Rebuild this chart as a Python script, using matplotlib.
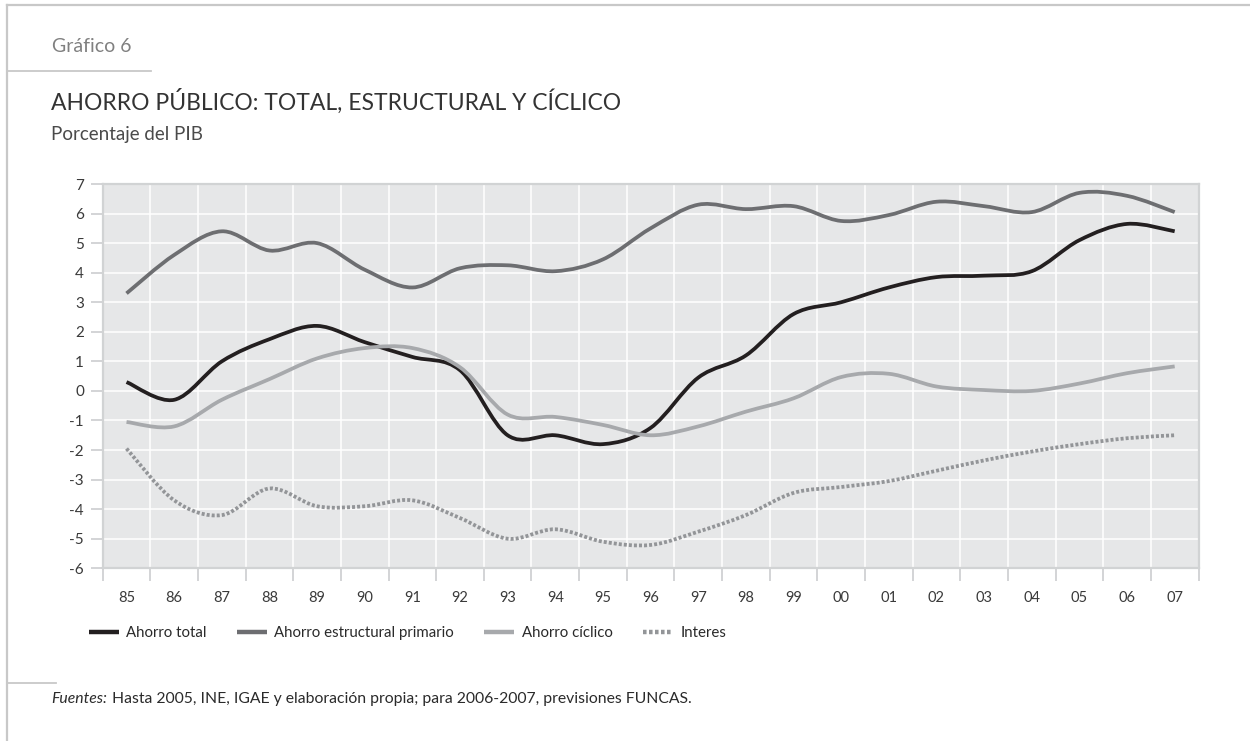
import matplotlib
matplotlib.use("Agg")
import matplotlib.pyplot as plt
from matplotlib.path import Path
from matplotlib.patches import PathPatch
from matplotlib.lines import Line2D
from matplotlib.text import Annotation
import numpy as np

# Datos (porcentaje del PIB)
anios = ['85', '86', '87', '88', '89', '90', '91', '92', '93', '94', '95', '96',
         '97', '98', '99', '00', '01', '02', '03', '04', '05', '06', '07']

ahorro_total = [0.3, -0.3, 1.0, 1.75, 2.2, 1.65, 1.15, 0.7, -1.5, -1.5, -1.8, -1.25,
                0.45, 1.2, 2.6, 3.0, 3.5, 3.85, 3.9, 4.05, 5.1, 5.65, 5.4]
ahorro_estructural = [3.3, 4.6, 5.4, 4.75, 5.0, 4.1, 3.5, 4.15, 4.25, 4.05, 4.45, 5.5,
                      6.3, 6.15, 6.25, 5.75, 5.95, 6.4, 6.25, 6.05, 6.7, 6.6, 6.05]
ahorro_ciclico = [-1.05, -1.2, -0.3, 0.4, 1.1, 1.45, 1.45, 0.8, -0.8, -0.88, -1.15, -1.5,
                  -1.2, -0.7, -0.25, 0.47, 0.58, 0.15, 0.03, 0.0, 0.25, 0.6, 0.83]
interes = [-1.95, -3.7, -4.2, -3.3, -3.9, -3.9, -3.7, -4.3, -5.0, -4.68, -5.1, -5.21,
           -4.76, -4.2, -3.45, -3.25, -3.05, -2.7, -2.35, -2.05, -1.8, -1.6, -1.5]

series = [
    ('Ahorro total', ahorro_total, '#231f20', '-'),
    ('Ahorro estructural primario', ahorro_estructural, '#6d6e71', '-'),
    ('Ahorro cíclico', ahorro_ciclico, '#a7a9ac', '-'),
    ('Interes', interes, '#939598', (0, (0.8, 0.55))),
]

plt.rcParams['font.family'] = ['Lato', 'DejaVu Sans']
plt.rcParams['axes.unicode_minus'] = False

W, H = 1250, 741
fig = plt.figure(figsize=(W / 100, H / 100), dpi=100)


def fx(px):
    return px / W


def fy(py):
    return 1 - py / H


def curva_suave(x, y):
    # línea suavizada tipo Catmull-Rom con segmentos Bezier cúbicos
    pts = np.column_stack([x, y]).astype(float)
    ext = np.vstack([pts[0], pts, pts[-1]])
    verts = [pts[0]]
    codes = [Path.MOVETO]
    for i in range(len(pts) - 1):
        p0, p1, p2, p3 = ext[i], ext[i + 1], ext[i + 2], ext[i + 3]
        c1 = p1 + (p2 - p0) / 6
        c2 = p2 - (p3 - p1) / 6
        verts += [c1, c2, p2]
        codes += [Path.CURVE4] * 3
    return Path(verts, codes)


ax = fig.add_axes([fx(102.7), fy(568.3), fx(1198.5 - 102.7), (568.3 - 184) / H])
ax.set_facecolor('#e6e7e8')

x = np.arange(len(anios))
for nombre, valores, color, estilo in series:
    patch = PathPatch(curva_suave(x, valores), fill=False, edgecolor=color,
                      linewidth=2.7, linestyle=estilo, capstyle='butt',
                      joinstyle='round', zorder=3)
    ax.add_patch(patch)

ax.set_xlim(-0.5, len(anios) - 0.5)
ax.set_ylim(-6, 7)

ax.set_yticks(range(-6, 8))
ax.set_xticks(x)
ax.set_xticklabels(anios)
ax.set_xticks(np.arange(-0.5, len(anios)), minor=True)

ax.grid(True, which='major', axis='y', color='white', linewidth=1.1)
ax.grid(True, which='minor', axis='x', color='white', linewidth=1.1)
ax.set_axisbelow(True)

ax.tick_params(axis='y', which='major', direction='out', length=8.5, width=1.1,
               color='#c8c9cb', labelsize=11, labelcolor='#3a3a3a', pad=5)
ax.tick_params(axis='x', which='major', length=0, labelsize=10.5,
               labelcolor='#3a3a3a', pad=16)
ax.tick_params(axis='x', which='minor', direction='out', length=9, width=1.1,
               color='#c8c9cb')

for lado in ['left', 'right', 'top', 'bottom']:
    ax.spines[lado].set_color('#d1d3d4')
    ax.spines[lado].set_linewidth(1.6)

# leyenda
manejadores = [Line2D([], [], color=c, linewidth=3.2, linestyle=e, solid_capstyle='butt',
                      dash_capstyle='butt') for _, _, c, e in series]
fig.legend(manejadores, [s[0] for s in series], loc='center left',
           bbox_to_anchor=(fx(89), fy(633)), ncol=4, frameon=False,
           fontsize=10.8, handlelength=2.0, handletextpad=0.5, columnspacing=2.0,
           borderpad=0, borderaxespad=0, labelcolor='#2a2a2a')

# textos de cabecera y pie
fig.text(fx(52), fy(52), 'Gráfico 6', fontsize=14, color='#808080', va='baseline')
fig.text(fx(51), fy(110), 'AHORRO PÚBLICO: TOTAL, ESTRUCTURAL Y CÍCLICO',
         fontsize=16.5, color='#333333', va='baseline')
fig.text(fx(51), fy(140), 'Porcentaje del PIB', fontsize=13.5, color='#4a4a4a',
         va='baseline')
fuentes = fig.text(fx(51), fy(703), 'Fuentes:', fontsize=11.3, color='#2a2a2a',
                   style='italic', va='baseline')
fig.add_artist(Annotation(
    'Hasta 2005, INE, IGAE y elaboración propia; para 2006-2007, previsiones FUNCAS.',
    xy=(1, 0), xycoords=fuentes, xytext=(4, 0), textcoords='offset points',
    fontsize=11.3, color='#2a2a2a', va='bottom', ha='left'))

# marco y separadores
gris_marco = '#c8c8c8'
fig.add_artist(Line2D([fx(7), 1], [fy(4.5), fy(4.5)], color=gris_marco, linewidth=1.6))
fig.add_artist(Line2D([fx(7), fx(7)], [fy(4.5), 0], color=gris_marco, linewidth=1.6))
fig.add_artist(Line2D([fx(7), fx(151)], [fy(70.7), fy(70.7)], color=gris_marco, linewidth=1.3))
fig.add_artist(Line2D([fx(7), fx(56)], [fy(683), fy(683)], color=gris_marco, linewidth=1.3))

fig.savefig('out.png', dpi=100)
